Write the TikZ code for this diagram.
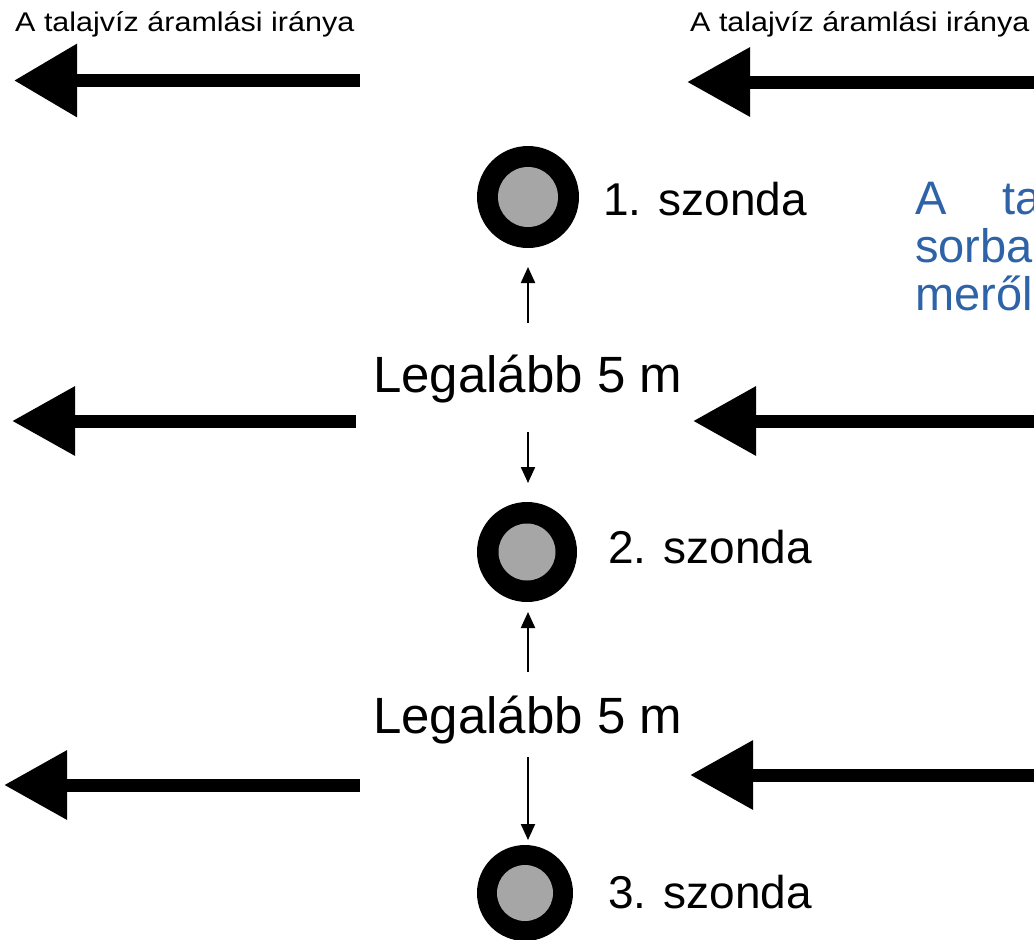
\documentclass[tikz,border=0pt]{standalone}
\usepackage{fontspec}
\setmainfont{Liberation Sans}
\usetikzlibrary{arrows.meta}
\definecolor{probegray}{RGB}{166,166,166}
\definecolor{noteblue}{RGB}{46,99,168}
\begin{document}
\begin{tikzpicture}[x=1pt,y=-1pt,
  flow/.style={line width=13pt,-{Triangle[length=63pt,width=66pt]}},
  gaparrow/.style={line width=2.2pt,-{Triangle[length=16pt,width=14pt]}},
  probe/.style={circle,fill=black,minimum size=#1,inner sep=0pt},
  core/.style={circle,fill=probegray,minimum size=#1,inner sep=0pt},
  toptxt/.style={anchor=base west,inner sep=0pt,font=\fontsize{27}{30}\selectfont},
  lbl/.style={anchor=base west,inner sep=0pt,font=\fontsize{46}{50}\selectfont},
  dist/.style={anchor=base west,inner sep=0pt,font=\fontsize{51}{56}\selectfont},
  note/.style={anchor=base west,inner sep=0pt,text=noteblue,font=\fontsize{47}{52}\selectfont}]
\useasboundingbox (0,0) rectangle (1034,940);
\fill[white] (0,0) rectangle (1034,940);
\clip (0,0) rectangle (1034,940);

% header texts
\node[toptxt] (hl) at (15,31) {\scalebox{1.13}[1]{A talajvíz áramlási iránya}};
\node[toptxt] (hr) at (690,31) {\scalebox{1.13}[1]{A talajvíz áramlási iránya}};

% flow arrows
\coordinate (f1s) at (360,80.5);  \coordinate (f1e) at (14,80.5);
\coordinate (f2s) at (1045,82);   \coordinate (f2e) at (687,82);
\coordinate (f3s) at (356,421);   \coordinate (f3e) at (12,421);
\coordinate (f4s) at (1045,421);  \coordinate (f4e) at (693,421);
\coordinate (f5s) at (360,785);   \coordinate (f5e) at (4,785);
\coordinate (f6s) at (1045,775);  \coordinate (f6e) at (690,775);
\draw[flow,-{Triangle[length=63pt,width=70pt]}] (f1s) -- (f1e);
\draw[flow] (f2s) -- (f2e);
\draw[flow] (f3s) -- (f3e);
\draw[flow] (f4s) -- (f4e);
\draw[flow] (f5s) -- (f5e);
\draw[flow] (f6s) -- (f6e);

% probes
\node[probe=102pt] (p1) at (528,197) {};
\node[core=60pt] at (p1) {};
\node[probe=100pt] (p2) at (527,552) {};
\node[core=57pt] at (p2) {};
\node[probe=96pt] (p3) at (525,893) {};
\node[core=56pt] at (p3) {};

\node[lbl] (n1) at (603,215) {1. szonda};
\node[lbl] (n2) at (608,563) {2. szonda};
\node[lbl] (n3) at (608,908) {3. szonda};

% distance labels
\node[dist] (d1) at (373,392) {Legalább 5 m};
\node[dist] (d2) at (373,733) {Legalább 5 m};

\coordinate (a1s) at (528,323); \coordinate (a1e) at (528,267);
\coordinate (a2s) at (528,432); \coordinate (a2e) at (528,483);
\coordinate (a3s) at (528,672); \coordinate (a3e) at (528,612);
\coordinate (a4s) at (528,757); \coordinate (a4e) at (528,840);
\draw[gaparrow] (a1s) -- (a1e);
\draw[gaparrow] (a2s) -- (a2e);
\draw[gaparrow] (a3s) -- (a3e);
\draw[gaparrow] (a4s) -- (a4e);

% blue note (cut off at the right edge)
\node[note] (b1) at (915,214) {A};
\node[note] (b2) at (1002,214) {ta};
\node[note] (b3) at (915,262) {sorba};
\node[note] (b4) at (915,310) {merőle};
\end{tikzpicture}
\end{document}
